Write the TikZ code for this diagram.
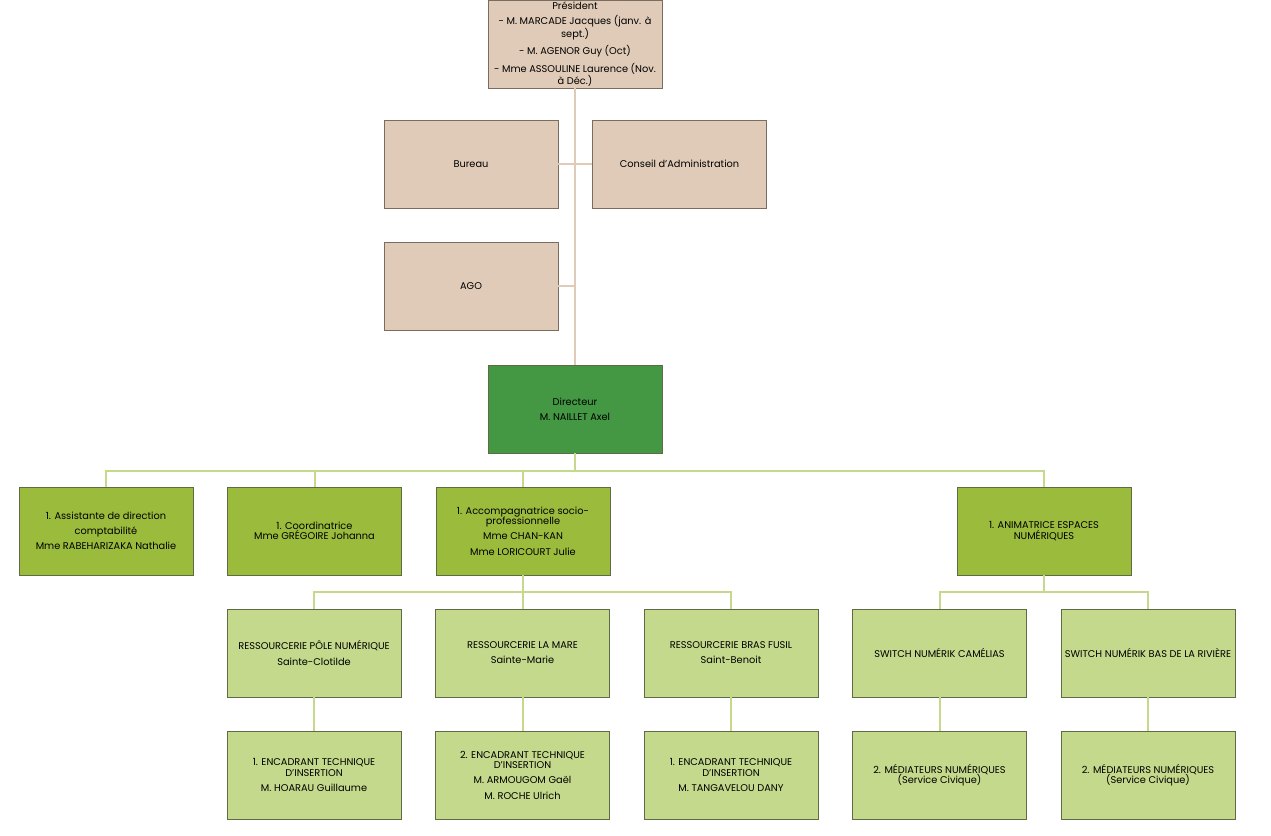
\documentclass[tikz,border=0pt]{standalone}
\usepackage{fontspec}
\setmainfont{Poppins}
\usetikzlibrary{positioning}

\definecolor{beige}{HTML}{DFCBB8}
\definecolor{beigebord}{HTML}{7A6D60}
\definecolor{vertfonce}{HTML}{449843}
\definecolor{vertmoyen}{HTML}{9BBB3C}
\definecolor{vertclair}{HTML}{C4D98C}
\definecolor{vertbord}{HTML}{5E6B45}

\tikzset{
  box/.style={rectangle,draw=vertbord,line width=0.8pt,minimum width=174pt,minimum height=88pt,
    align=center,inner sep=1pt,font=\fontsize{9.8}{10.6}\selectfont},
  conseil/.style={box,fill=beige,draw=beigebord},
  direction/.style={box,fill=vertfonce},
  service/.style={box,fill=vertmoyen},
  antenne/.style={box,fill=vertclair},
  lienbeige/.style={draw=beige,line width=2pt},
  lienvert/.style={draw=vertclair,line width=2pt}
}

\begin{document}
\begin{tikzpicture}[x=1pt,y=-1pt,node distance=33.3pt and 33.7pt]
  \useasboundingbox (0,0) rectangle (1271,835);

  \node[conseil] (president) at (575,44) {Président\\[4.5pt]- M. MARCADE Jacques (janv. à\\sept.)\\[4.5pt]- M. AGENOR Guy (Oct)\\[4.5pt]- Mme ASSOULINE Laurence (Nov.\\à Déc.)};
  \node[conseil] (bureau) at (471,164) {Bureau};
  \node[conseil, right=of bureau] (ca) {Conseil d'Administration};
  \node[conseil, below=of bureau] (ago) {AGO};
  \node[direction] (directeur) at (575,409) {Directeur\\[4.5pt]M. NAILLET Axel};

  \node[service] (assistante) at (106,531) {1. Assistante de direction\\[4.5pt]comptabilité\\[4.5pt]Mme RABEHARIZAKA Nathalie};
  \node[service, right=of assistante] (coordinatrice) {1. Coordinatrice\\Mme GRÉGOIRE Johanna};
  \node[service, right=of coordinatrice] (accompagnatrice) {1. Accompagnatrice socio-\\professionnelle\\[4.5pt]Mme CHAN-KAN\\[4.5pt]Mme LORICOURT Julie};
  \node[service] (animatrice) at (1044,531) {1. ANIMATRICE ESPACES\\NUMÉRIQUES};

  \node[antenne] (polenum) at (314,653) {RESSOURCERIE PÔLE NUMÉRIQUE\\[4.5pt]Sainte-Clotilde};
  \node[antenne, right=of polenum] (lamare) {RESSOURCERIE LA MARE\\[4.5pt]Sainte-Marie};
  \node[antenne, right=of lamare] (brasfusil) {RESSOURCERIE BRAS FUSIL\\[4.5pt]Saint-Benoit};
  \node[antenne, right=of brasfusil] (camelias) {SWITCH NUMÉRIK CAMÉLIAS};
  \node[antenne, right=of camelias] (riviere) {SWITCH NUMÉRIK BAS DE LA RIVIÈRE};

  \node[antenne, below=of polenum] (etipole) {1. ENCADRANT TECHNIQUE\\D'INSERTION\\[4.5pt]M. HOARAU Guillaume};
  \node[antenne, below=of lamare] (etimare) {2. ENCADRANT TECHNIQUE\\D'INSERTION\\[4.5pt]M. ARMOUGOM Gaël\\[4.5pt]M. ROCHE Ulrich};
  \node[antenne, below=of brasfusil] (etibras) {1. ENCADRANT TECHNIQUE\\D'INSERTION\\[4.5pt]M. TANGAVELOU DANY};
  \node[antenne, below=of camelias] (medcam) {2. MÉDIATEURS NUMÉRIQUES\\(Service Civique)};
  \node[antenne, below=of riviere] (medriv) {2. MÉDIATEURS NUMÉRIQUES\\(Service Civique)};

  \draw[lienbeige] (president) -- (directeur);
  \draw[lienbeige] (bureau) -- (ca);
  \draw[lienbeige] (ago.east) -- (ago.east -| president.south);

  \foreach \n in {assistante,coordinatrice,accompagnatrice,animatrice}
    \draw[lienvert] (directeur.south) -- ++(0,17.5) -| (\n.north);
  \foreach \n in {polenum,lamare,brasfusil}
    \draw[lienvert] (accompagnatrice.south) -- ++(0,17) -| (\n.north);
  \foreach \n in {camelias,riviere}
    \draw[lienvert] (animatrice.south) -- ++(0,17) -| (\n.north);
  \draw[lienvert] (polenum) -- (etipole);
  \draw[lienvert] (lamare) -- (etimare);
  \draw[lienvert] (brasfusil) -- (etibras);
  \draw[lienvert] (camelias) -- (medcam);
  \draw[lienvert] (riviere) -- (medriv);
\end{tikzpicture}
\end{document}
